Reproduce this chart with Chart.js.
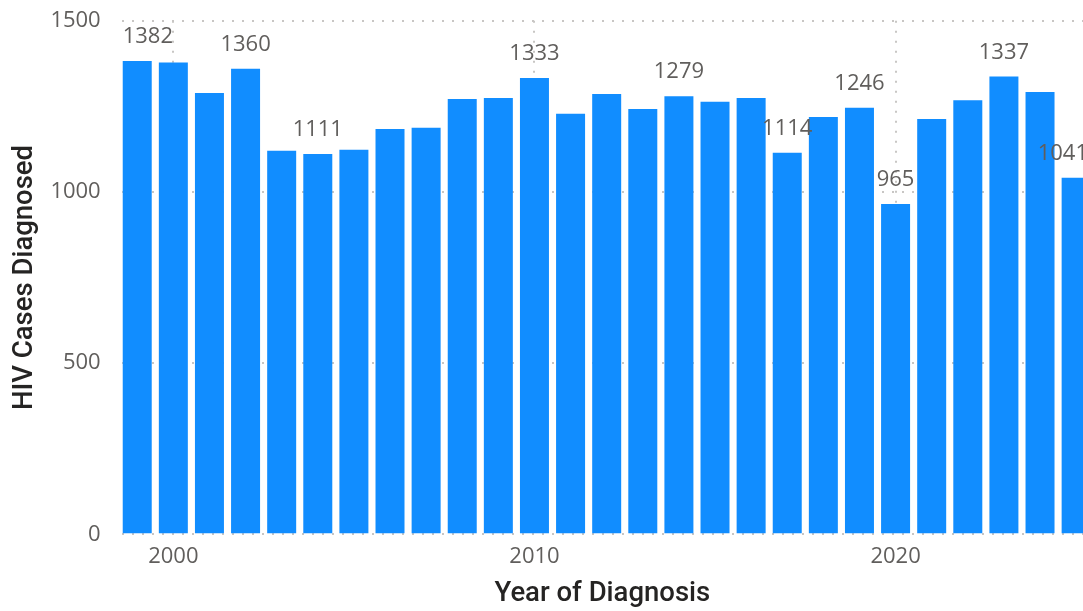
<!DOCTYPE html>
<html>
<head>
<meta charset="utf-8">
<script src="https://cdn.jsdelivr.net/npm/chart.js@4"></script>
<style>
  html, body { margin: 0; padding: 0; background: #fff; }
</style>
</head>
<body>
<canvas id="hivChart" width="1083" height="611"></canvas>
<script>
const years = [1999, 2000, 2001, 2002, 2003, 2004, 2005, 2006, 2007, 2008, 2009, 2010, 2011, 2012,
    2013, 2014, 2015, 2016, 2017, 2018, 2019, 2020, 2021, 2022, 2023, 2024, 2025];
const cases = [1382, 1378, 1289, 1360, 1120, 1111, 1123, 1184, 1187, 1271, 1274, 1333, 1228, 1286,
    1242, 1279, 1263, 1274, 1114, 1219, 1246, 965, 1213, 1268, 1337, 1292, 1041];
// only these bars carry a value label in the original
const labeledYears = [1999, 2002, 2004, 2010, 2014, 2017, 2019, 2020, 2023, 2025];
const xTicks = [2000, 2010, 2020];
const yTicks = [0, 500, 1000, 1500];

const tickColor = '#605E5C';
const titleColor = '#252423';
const gridColor = '#C8C6C4';

const valueLabels = {
    id: 'valueLabels',
    afterDatasetsDraw(chart) {
        const { ctx, chartArea } = chart;
        const bars = chart.getDatasetMeta(0).data;
        ctx.save();
        ctx.font = '22px "Open Sans", sans-serif';
        ctx.fillStyle = tickColor;
        ctx.textBaseline = 'alphabetic';
        ctx.textAlign = 'left';
        years.forEach((yr, i) => {
            if (!labeledYears.includes(yr)) return;
            const bar = bars[i];
            const text = String(cases[i]);
            const w = ctx.measureText(text).width;
            let left = bar.x - w / 2;
            // keep labels inside the plot, like the original does
            if (left < chartArea.left + 1) left = chartArea.left + 1;
            if (left + w > chartArea.right + 5) left = chartArea.right + 5 - w;
            ctx.fillText(text, left, bar.y - 18);
        });
        ctx.restore();
    }
};

new Chart(document.getElementById('hivChart'), {
    type: 'bar',
    data: {
        datasets: [{
            data: years.map((y, i) => ({ x: y, y: cases[i] })),
            backgroundColor: '#118DFF',
            barPercentage: 0.803,
            categoryPercentage: 1
        }]
    },
    options: {
        responsive: false,
        animation: false,
        layout: { padding: { top: 20.7, left: 0, right: 0, bottom: 0 } },
        plugins: {
            legend: { display: false },
            tooltip: { enabled: false }
        },
        scales: {
            x: {
                type: 'linear',
                min: 1998.57,
                max: 2025.19,
                offset: false,
                afterBuildTicks: (s) => { s.ticks = xTicks.map(v => ({ value: v })); },
                afterFit: (s) => { s.height = 76.7; },
                grid: { offset: false, drawTicks: false, color: gridColor, lineWidth: 2 },
                border: { display: false, dash: [2, 8] },
                ticks: {
                    padding: 9,
                    color: tickColor,
                    font: { family: '"Open Sans", sans-serif', size: 22 },
                    callback: (v) => String(v)
                },
                title: {
                    display: true,
                    text: 'Year of Diagnosis',
                    color: titleColor,
                    font: { family: 'Roboto, sans-serif', size: 27.5, weight: '500' },
                    padding: { top: 0, bottom: 0 }
                }
            },
            y: {
                min: 0,
                max: 1500,
                afterBuildTicks: (s) => { s.ticks = yTicks.map(v => ({ value: v })); },
                afterFit: (s) => { s.width = 121.7; },
                grid: {
                    drawTicks: true, tickLength: 18, tickColor: 'rgba(0,0,0,0)',
                    color: gridColor, lineWidth: 2
                },
                border: { display: false, dash: [2, 8] },
                ticks: {
                    padding: 3,
                    color: tickColor,
                    font: { family: '"Open Sans", sans-serif', size: 22 },
                    callback: (v) => String(v)
                },
                title: {
                    display: true,
                    text: 'HIV Cases Diagnosed',
                    color: titleColor,
                    font: { family: 'Roboto, sans-serif', size: 27.5, weight: '500' },
                    padding: { top: 9, bottom: 0 }
                }
            }
        }
    },
    plugins: [valueLabels]
});
</script>
</body>
</html>
